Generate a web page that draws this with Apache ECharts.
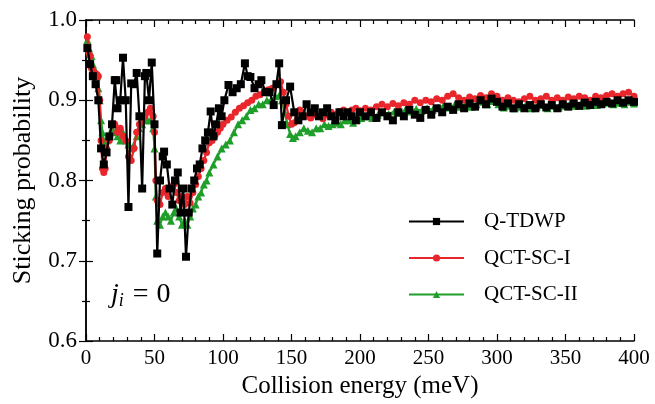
<!DOCTYPE html>
<html><head><meta charset="utf-8">
<script src="https://cdn.jsdelivr.net/npm/echarts@6/dist/echarts.min.js"></script>
<style>html,body{margin:0;padding:0;background:#fff}#c{width:655px;height:404px}</style>
</head><body><div id="c"></div>
<script>
const seriesNames = ['Q-TDWP', 'QCT-SC-I', 'QCT-SC-II'];
const xTicks = [0, 50, 100, 150, 200, 250, 300, 350, 400];
const yTicks = [0.6, 0.7, 0.8, 0.9, 1.0];

const qtdwp = [
[1,0.965],[3,0.945],[5,0.93],[7,0.92],[9,0.90],[11,0.84],[13,0.82],[15,0.835],[17,0.855],[19,0.87],
[21,0.925],[22,0.925],[23,0.89],[25,0.90],[27,0.953],[29,0.90],[31,0.767],[33,0.921],[35,0.92],[37,0.934],
[39,0.88],[41,0.79],[43,0.93],[44,0.934],[46,0.90],[48,0.947],[50,0.87],[52,0.709],[54,0.80],[56,0.83],
[57,0.836],[59,0.82],[61,0.79],[63,0.77],[65,0.80],[67,0.81],[69,0.76],[71,0.79],[73,0.705],[75,0.76],
[77,0.79],[79,0.80],[81,0.815],[83,0.82],[85,0.84],[87,0.85],[89,0.86],[91,0.886],[93,0.855],[95,0.87],
[97,0.89],[99,0.88],[101,0.90],[104,0.919],[107,0.91],[110,0.915],[113,0.92],[116,0.946],[118,0.93],[120,0.929],
[123,0.915],[126,0.92],[128,0.925],[131,0.91],[134,0.91],[137,0.894],[139,0.92],[141,0.946],[143,0.869],[146,0.90],
[149,0.917],[152,0.885],[155,0.875],[158,0.88],[161,0.895],[164,0.885],[167,0.89],[170,0.88],[173,0.885],[176,0.89],
[179,0.88],[182,0.875],[185,0.885],[188,0.88],[191,0.885],[194,0.88],[197,0.875],[200,0.885],[204,0.88],[208,0.885],
[212,0.878],[216,0.885],[220,0.88],[224,0.875],[228,0.885],[232,0.88],[236,0.888],[240,0.882],[244,0.878],[248,0.888],
[252,0.882],[256,0.89],[260,0.885],[264,0.892],[268,0.888],[272,0.895],[276,0.89],[280,0.896],[284,0.892],[288,0.9],
[292,0.895],[296,0.902],[300,0.898],[304,0.892],[308,0.896],[312,0.89],[316,0.895],[320,0.89],[324,0.894],[328,0.89],
[332,0.895],[336,0.891],[340,0.894],[344,0.89],[348,0.895],[352,0.892],[356,0.896],[360,0.893],[364,0.897],[368,0.894],
[372,0.898],[376,0.895],[380,0.898],[384,0.896],[388,0.9],[392,0.897],[396,0.9],[400,0.898]
];

const qctsc1 = [
[1,0.979],[2,0.96],[3,0.955],[4,0.94],[5,0.935],[6,0.935],[7,0.93],[8,0.932],[9,0.93],[10,0.90],
[11,0.85],[12,0.815],[13,0.81],[14,0.815],[15,0.84],[17,0.85],[19,0.87],[21,0.87],[23,0.86],[25,0.865],
[27,0.855],[29,0.85],[31,0.83],[33,0.825],[35,0.84],[37,0.86],[39,0.87],[41,0.875],[43,0.88],[45,0.885],
[47,0.89],[49,0.88],[50,0.86],[51,0.80],[52,0.775],[54,0.77],[56,0.785],[58,0.79],[60,0.78],[62,0.79],
[64,0.795],[66,0.785],[68,0.775],[70,0.78],[72,0.77],[74,0.78],[76,0.772],[78,0.785],[80,0.795],[82,0.805],
[84,0.815],[86,0.825],[88,0.835],[90,0.847],[92,0.85],[94,0.855],[96,0.86],[98,0.865],[100,0.87],[103,0.875],
[106,0.879],[109,0.885],[112,0.89],[115,0.893],[118,0.897],[121,0.9],[124,0.905],[127,0.907],[130,0.91],[133,0.913],
[136,0.915],[139,0.92],[142,0.923],[144,0.91],[146,0.895],[148,0.88],[150,0.87],[152,0.872],[154,0.885],[156,0.888],
[158,0.885],[161,0.88],[164,0.878],[167,0.882],[170,0.88],[173,0.877],[176,0.882],[179,0.885],[182,0.882],[185,0.886],
[188,0.888],[191,0.885],[194,0.888],[197,0.89],[200,0.887],[204,0.89],[208,0.888],[212,0.892],[216,0.895],[220,0.892],
[224,0.896],[228,0.893],[232,0.897],[236,0.895],[240,0.9],[244,0.897],[248,0.9],[252,0.898],[256,0.902],[260,0.9],
[264,0.905],[268,0.908],[272,0.903],[276,0.9],[280,0.904],[284,0.902],[288,0.906],[292,0.903],[296,0.908],[300,0.905],
[304,0.9],[308,0.903],[312,0.9],[316,0.898],[320,0.902],[324,0.905],[328,0.9],[332,0.902],[336,0.905],[340,0.9],
[344,0.903],[348,0.9],[352,0.904],[356,0.902],[360,0.905],[364,0.903],[368,0.9],[372,0.905],[376,0.903],[380,0.906],
[384,0.908],[388,0.905],[392,0.908],[396,0.91],[400,0.905]
];

const qctsc2 = [
[1,0.975],[2,0.965],[3,0.96],[4,0.955],[5,0.945],[6,0.94],[7,0.935],[8,0.93],[9,0.915],[10,0.90],
[11,0.875],[12,0.86],[13,0.85],[14,0.845],[15,0.85],[17,0.855],[19,0.865],[21,0.86],[23,0.855],[25,0.85],
[27,0.86],[29,0.85],[31,0.845],[33,0.84],[35,0.845],[37,0.855],[39,0.865],[41,0.87],[43,0.875],[45,0.875],
[47,0.875],[49,0.865],[50,0.84],[51,0.78],[52,0.75],[54,0.745],[56,0.755],[58,0.76],[60,0.755],[62,0.75],
[64,0.76],[66,0.765],[68,0.755],[70,0.745],[72,0.75],[74,0.745],[76,0.755],[78,0.765],[80,0.77],[82,0.78],
[84,0.785],[86,0.795],[88,0.80],[90,0.81],[93,0.82],[96,0.83],[99,0.84],[102,0.845],[105,0.85],[108,0.86],
[111,0.87],[114,0.875],[117,0.88],[120,0.888],[123,0.89],[126,0.895],[129,0.895],[132,0.9],[135,0.9],[138,0.905],
[141,0.906],[143,0.9],[145,0.885],[147,0.87],[149,0.858],[151,0.853],[153,0.855],[156,0.86],[159,0.865],[162,0.862],
[165,0.86],[168,0.865],[171,0.865],[174,0.87],[177,0.868],[180,0.87],[183,0.872],[186,0.87],[189,0.875],[192,0.875],
[195,0.872],[198,0.876],[201,0.878],[205,0.88],[209,0.878],[213,0.882],[217,0.885],[221,0.883],[225,0.886],[229,0.884],
[233,0.888],[237,0.886],[241,0.889],[245,0.887],[249,0.89],[253,0.888],[257,0.891],[261,0.893],[265,0.891],[269,0.894],
[273,0.892],[277,0.895],[281,0.892],[285,0.895],[289,0.898],[293,0.895],[297,0.899],[301,0.895],[305,0.891],[309,0.893],
[313,0.89],[317,0.892],[321,0.894],[325,0.89],[329,0.892],[333,0.894],[337,0.89],[341,0.893],[345,0.891],[349,0.893],
[353,0.895],[357,0.893],[361,0.895],[365,0.893],[369,0.896],[373,0.894],[377,0.896],[381,0.897],[385,0.895],[389,0.897],
[393,0.895],[397,0.898],[400,0.896]
];

const FONT = 'Liberation Serif';
const chart = echarts.init(document.getElementById('c'), null, {renderer: 'canvas'});
const axisLine = {show: true, lineStyle: {color: '#000', width: 1.5}};
const tickStyle = {color: '#000', width: 1.2};
const xBase = {
  type: 'value', min: xTicks[0], max: xTicks[xTicks.length-1], interval: 50,
  axisLine: axisLine, splitLine: {show: false},
  axisTick: {show: true, inside: true, length: 7, lineStyle: tickStyle},
  minorTick: {show: true, splitNumber: 5, length: 4, lineStyle: tickStyle}
};
const yBase = {
  type: 'value', min: yTicks[0], max: yTicks[yTicks.length-1], interval: 0.1,
  axisLine: axisLine, splitLine: {show: false},
  axisTick: {show: true, inside: true, length: 7, lineStyle: tickStyle},
  minorTick: {show: true, splitNumber: 2, length: 4, lineStyle: tickStyle}
};
const colors = ['#000000', '#e8262b', '#1f9e2a'];
const symbols = ['rect', 'circle', 'triangle'];
const sizes = [8, 7, 8];
const datas = [qtdwp, qctsc1, qctsc2];
const order = [2, 1, 0];
chart.setOption({
  animation: false,
  backgroundColor: '#fff',
  grid: {left: 86, right: 21, top: 20, bottom: 63, containLabel: false},
  legend: {
    left: 403, top: 206, orient: 'vertical', itemWidth: 55, itemHeight: 9, itemGap: 15.5,
    data: seriesNames,
    textStyle: {fontFamily: FONT, fontSize: 21, color: '#000', padding: [0, 0, 0, 15]}
  },
  xAxis: [
    Object.assign({}, xBase, {
      position: 'bottom', name: 'Collision energy (meV)', nameLocation: 'middle', nameGap: 33,
      nameTextStyle: {fontFamily: FONT, fontSize: 25, color: '#000'},
      axisLabel: {fontFamily: FONT, fontSize: 21, color: '#000', margin: 7, formatter: v => String(v)}
    }),
    Object.assign({}, xBase, {position: 'top', axisLabel: {show: false}})
  ],
  yAxis: [
    Object.assign({}, yBase, {
      position: 'left', name: 'Sticking probability', nameLocation: 'middle', nameGap: 50,
      nameTextStyle: {fontFamily: FONT, fontSize: 26, color: '#000'},
      axisLabel: {fontFamily: FONT, fontSize: 23, color: '#000', margin: 9, formatter: v => v.toFixed(1)}
    }),
    Object.assign({}, yBase, {position: 'right', axisLabel: {show: false}})
  ],
  graphic: [{
    type: 'text', left: 111, top: 281,
    style: {
      text: '{j|j}{i|i}{eq|=}{z|0}',
      rich: {
        j: {fontFamily: FONT, fontStyle: 'italic', fontSize: 28, fill: '#000'},
        i: {fontFamily: FONT, fontStyle: 'italic', fontSize: 18, fill: '#000', verticalAlign: 'bottom', padding: [12, 0, 0, 0]},
        eq: {fontFamily: FONT, fontSize: 28, fill: '#000', padding: [0, 8, 0, 9]},
        z: {fontFamily: FONT, fontSize: 28, fill: '#000'}
      }
    }
  }],
  series: order.map(k => ({
    name: seriesNames[k], type: 'line', data: datas[k],
    xAxisIndex: 0, yAxisIndex: 0,
    symbol: symbols[k], symbolSize: sizes[k], showAllSymbol: true,
    lineStyle: {color: colors[k], width: 2.2},
    itemStyle: {color: colors[k]},
    z: 3 - k
  }))
});
</script></body></html>
